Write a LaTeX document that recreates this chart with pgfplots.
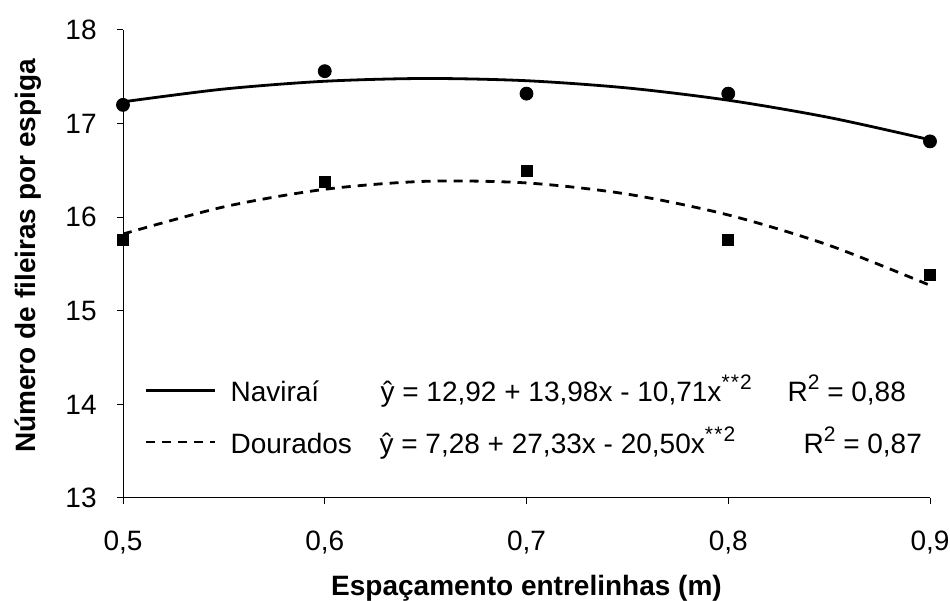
\documentclass[border=0pt]{standalone}
\usepackage{fontspec}
\setmainfont{Liberation Sans}
\usepackage{pgfplots}
\pgfplotsset{compat=1.18}
\newcommand{\sups}[1]{\raisebox{0.42em}{\fontsize{10.5}{12}\selectfont #1}}
\begin{document}
\fontsize{14}{17}\selectfont
\begin{tikzpicture}
\begin{axis}[name=ax, scale only axis, width=403.5pt, height=234pt,
 xmin=0.5, xmax=0.9, ymin=13, ymax=18,
 axis x line=bottom, axis y line=left, axis line style={-, line width=0.5pt},
 xtick={0.5,0.6,0.7,0.8,0.9}, ytick={13,14,15,16,17,18},
 tick align=outside, major tick length=3pt, tick style={black, line width=0.5pt},
 /pgf/number format/assume math mode=true, /pgf/number format/use comma,
 ticklabel style={font=\fontsize{14}{17}\selectfont},
 xticklabel style={anchor=north, inner sep=0pt, yshift=-13.5pt},
 yticklabel style={anchor=east, inner sep=0pt, xshift=-10pt},
 xlabel={Espaçamento entrelinhas (m)},
 ylabel={Número de fileiras por espiga},
 xlabel style={at={([yshift=-49pt]axis description cs:0.5,0)}, anchor=base, font=\bfseries\fontsize{14}{17}\selectfont},
 ylabel style={at={([xshift=-43.5pt]axis description cs:0,0.517)}, anchor=base, font=\bfseries\fontsize{14}{17}\selectfont},
 legend style={at={(0.0265,0.175)}, anchor=west, draw=none, fill=none, inner sep=0pt, row sep=10.5pt, column sep=7pt, nodes={inner sep=0pt}, font=\fontsize{14}{17}\selectfont},
 legend cell align=left,
 legend image code/.code={\draw[#1] (0pt,0pt) -- (34.5pt,0pt);},
]
\addplot[black, line width=1.4pt, smooth] coordinates {
(0.50,17.2325) (0.55,17.3692) (0.60,17.4524) (0.65,17.4820) (0.70,17.4581) (0.75,17.3806) (0.80,17.2496) (0.85,17.0650) (0.90,16.8269)};
\addlegendentry{\makebox[75pt][l]{Naviraí}\makebox[203.5pt][l]{ŷ = 12,92 + 13,98x - 10,71x\sups{*\kern0.6pt*\kern0.6pt2}}R\sups{2} = 0,88}
\addplot[black, line width=1.4pt, dash pattern=on 4.5pt off 3.5pt, smooth] coordinates {
(0.50,15.8200) (0.55,16.1103) (0.60,16.2980) (0.65,16.3833) (0.70,16.3660) (0.75,16.2463) (0.80,16.0240) (0.85,15.6993) (0.90,15.2720)};
\addlegendentry{\makebox[74.5pt][l]{Dourados}\makebox[212pt][l]{ŷ = 7,28 + 27,33x - 20,50x\sups{*\kern0.6pt*\kern0.6pt2}}R\sups{2} = 0,87}
\addplot[only marks, mark=*, mark size=3.25pt, black, forget plot] coordinates {
(0.5,17.20) (0.6,17.56) (0.7,17.32) (0.8,17.32) (0.9,16.81)};
\addplot[only marks, mark=square*, mark size=2.75pt, black, forget plot] coordinates {
(0.5,15.76) (0.6,16.38) (0.7,16.49) (0.8,15.76) (0.9,15.38)};
\end{axis}
\pgfresetboundingbox
\path ([shift={(-61.5pt,-51.5pt)}]ax.south west) rectangle ([shift={(10pt,15pt)}]ax.north east);
\end{tikzpicture}
\end{document}
